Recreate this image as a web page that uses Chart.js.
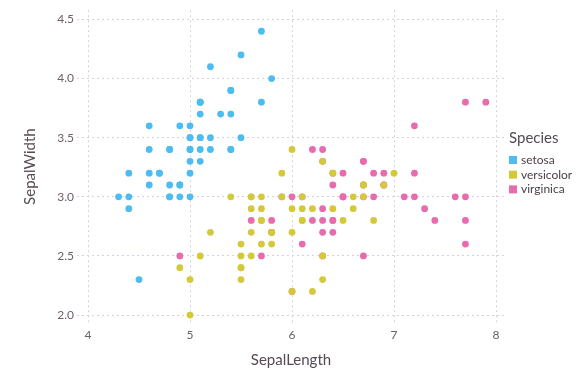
<!DOCTYPE html>
<html>
<head>
<meta charset="utf-8">
<script src="https://cdn.jsdelivr.net/npm/chart.js@4"></script>
<style>
  html, body { margin: 0; padding: 0; background: #fff; }
  #wrap { width: 576px; height: 378px; }
</style>
</head>
<body>
<div id="wrap"><canvas id="chart" width="576" height="378"></canvas></div>
<script>
// iris sepal measurements, [length, width]
const setosa = [
  [5.1,3.5],[4.9,3.0],[4.7,3.2],[4.6,3.1],[5.0,3.6],[5.4,3.9],[4.6,3.4],[5.0,3.4],[4.4,2.9],[4.9,3.1],
  [5.4,3.7],[4.8,3.4],[4.8,3.0],[4.3,3.0],[5.8,4.0],[5.7,4.4],[5.4,3.9],[5.1,3.5],[5.7,3.8],[5.1,3.8],
  [5.4,3.4],[5.1,3.7],[4.6,3.6],[5.1,3.3],[4.8,3.4],[5.0,3.0],[5.0,3.4],[5.2,3.5],[5.2,3.4],[4.7,3.2],
  [4.8,3.1],[5.4,3.4],[5.2,4.1],[5.5,4.2],[4.9,3.1],[5.0,3.2],[5.5,3.5],[4.9,3.6],[4.4,3.0],[5.1,3.4],
  [5.0,3.5],[4.5,2.3],[4.4,3.2],[5.0,3.5],[5.1,3.8],[4.8,3.0],[5.1,3.8],[4.6,3.2],[5.3,3.7],[5.0,3.3]
];
const versicolor = [
  [7.0,3.2],[6.4,3.2],[6.9,3.1],[5.5,2.3],[6.5,2.8],[5.7,2.8],[6.3,3.3],[4.9,2.4],[6.6,2.9],[5.2,2.7],
  [5.0,2.0],[5.9,3.0],[6.0,2.2],[6.1,2.9],[5.6,2.9],[6.7,3.1],[5.6,3.0],[5.8,2.7],[6.2,2.2],[5.6,2.5],
  [5.9,3.2],[6.1,2.8],[6.3,2.5],[6.1,2.8],[6.4,2.9],[6.6,3.0],[6.8,2.8],[6.7,3.0],[6.0,2.9],[5.7,2.6],
  [5.5,2.4],[5.5,2.4],[5.8,2.7],[6.0,2.7],[5.4,3.0],[6.0,3.4],[6.7,3.1],[6.3,2.3],[5.6,3.0],[5.5,2.5],
  [5.5,2.6],[6.1,3.0],[5.8,2.6],[5.0,2.3],[5.6,2.7],[5.7,3.0],[5.7,2.9],[6.2,2.9],[5.1,2.5],[5.7,2.8]
];
const virginica = [
  [6.3,3.3],[5.8,2.7],[7.1,3.0],[6.3,2.9],[6.5,3.0],[7.6,3.0],[4.9,2.5],[7.3,2.9],[6.7,2.5],[7.2,3.6],
  [6.5,3.2],[6.4,2.7],[6.8,3.0],[5.7,2.5],[5.8,2.8],[6.4,3.2],[6.5,3.0],[7.7,3.8],[7.7,2.6],[6.0,2.2],
  [6.9,3.2],[5.6,2.8],[7.7,2.8],[6.3,2.7],[6.7,3.3],[7.2,3.2],[6.2,2.8],[6.1,3.0],[6.4,2.8],[7.2,3.0],
  [7.4,2.8],[7.9,3.8],[6.4,2.8],[6.3,2.8],[6.1,2.6],[7.7,3.0],[6.3,3.4],[6.4,3.1],[6.0,3.0],[6.9,3.1],
  [6.7,3.1],[6.9,3.1],[5.8,2.7],[6.8,3.2],[6.7,3.3],[6.7,3.0],[6.3,2.5],[6.5,3.0],[6.2,3.4],[5.9,3.0]
];
const species = ["setosa", "versicolor", "virginica"];
const xTicks = [4, 5, 6, 7, 8];
const yTicks = [2.0, 2.5, 3.0, 3.5, 4.0, 4.5];

const colors = ["#4cbcf1", "#d4c93b", "#e86bad"];
const FONT = "Lato, 'DejaVu Sans', sans-serif";
const gridColor = "#d4d2e2";
const tickColor = "#6c606b";
const titleColor = "#564a55";

const toPts = (rows) => rows.map((r) => ({ x: r[0], y: r[1] }));

// Gadfly-style key on the right
const keyPlugin = {
  id: "key",
  afterDraw(chart) {
    const ctx = chart.ctx;
    const x0 = chart.chartArea.right + 4;
    ctx.save();
    ctx.textBaseline = "middle";
    ctx.textAlign = "left";
    ctx.fillStyle = titleColor;
    ctx.font = "15px " + FONT;
    ctx.fillText("Species", x0, 138);
    ctx.font = "12px " + FONT;
    chart.data.datasets.forEach((ds, i) => {
      const y = 160 + i * 14.7;
      ctx.fillStyle = ds.backgroundColor;
      ctx.fillRect(x0, y - 4, 8, 8);
      ctx.fillStyle = "#4c404b";
      ctx.fillText(ds.label, x0 + 12, y);
    });
    ctx.restore();
  },
};

new Chart(document.getElementById("chart").getContext("2d"), {
  type: "scatter",
  data: {
    datasets: [setosa, versicolor, virginica].map((rows, i) => ({
      label: species[i],
      data: toPts(rows),
      backgroundColor: colors[i],
      borderWidth: 0,
      pointRadius: 3.4,
      pointHoverRadius: 3.4,
    })),
  },
  options: {
    responsive: false,
    animation: false,
    layout: { padding: { top: 8, right: 71, left: 0, bottom: 0 } },
    plugins: { legend: { display: false }, tooltip: { enabled: false } },
    scales: {
      x: {
        type: "linear",
        min: 3.892,
        max: 8.088,
        afterBuildTicks: (s) => { s.ticks = xTicks.map((v) => ({ value: v })); },
        afterFit: (s) => { s.height = 55; },
        border: { display: false, dash: [2, 3] },
        grid: { color: gridColor, drawTicks: false, lineWidth: 1 },
        ticks: {
          padding: 5,
          color: tickColor,
          font: { family: FONT, size: 12 },
          callback: (v) => String(v),
        },
        title: {
          display: true,
          text: "SepalLength",
          color: titleColor,
          font: { family: FONT, size: 15 },
          padding: { top: 0, bottom: 9 },
        },
      },
      y: {
        type: "linear",
        min: 1.933,
        max: 4.578,
        afterBuildTicks: (s) => { s.ticks = yTicks.map((v) => ({ value: v })); },
        afterFit: (s) => { s.width = 77; },
        border: { display: false, dash: [2, 3] },
        grid: { color: gridColor, drawTicks: false, lineWidth: 1 },
        ticks: {
          padding: 3,
          color: tickColor,
          font: { family: FONT, size: 12 },
          callback: (v) => Number(v).toFixed(1),
        },
        title: {
          display: true,
          text: "SepalWidth",
          color: titleColor,
          font: { family: FONT, size: 15 },
          padding: { top: 21, bottom: 0 },
        },
      },
    },
  },
  plugins: [keyPlugin],
});
</script>
</body>
</html>
